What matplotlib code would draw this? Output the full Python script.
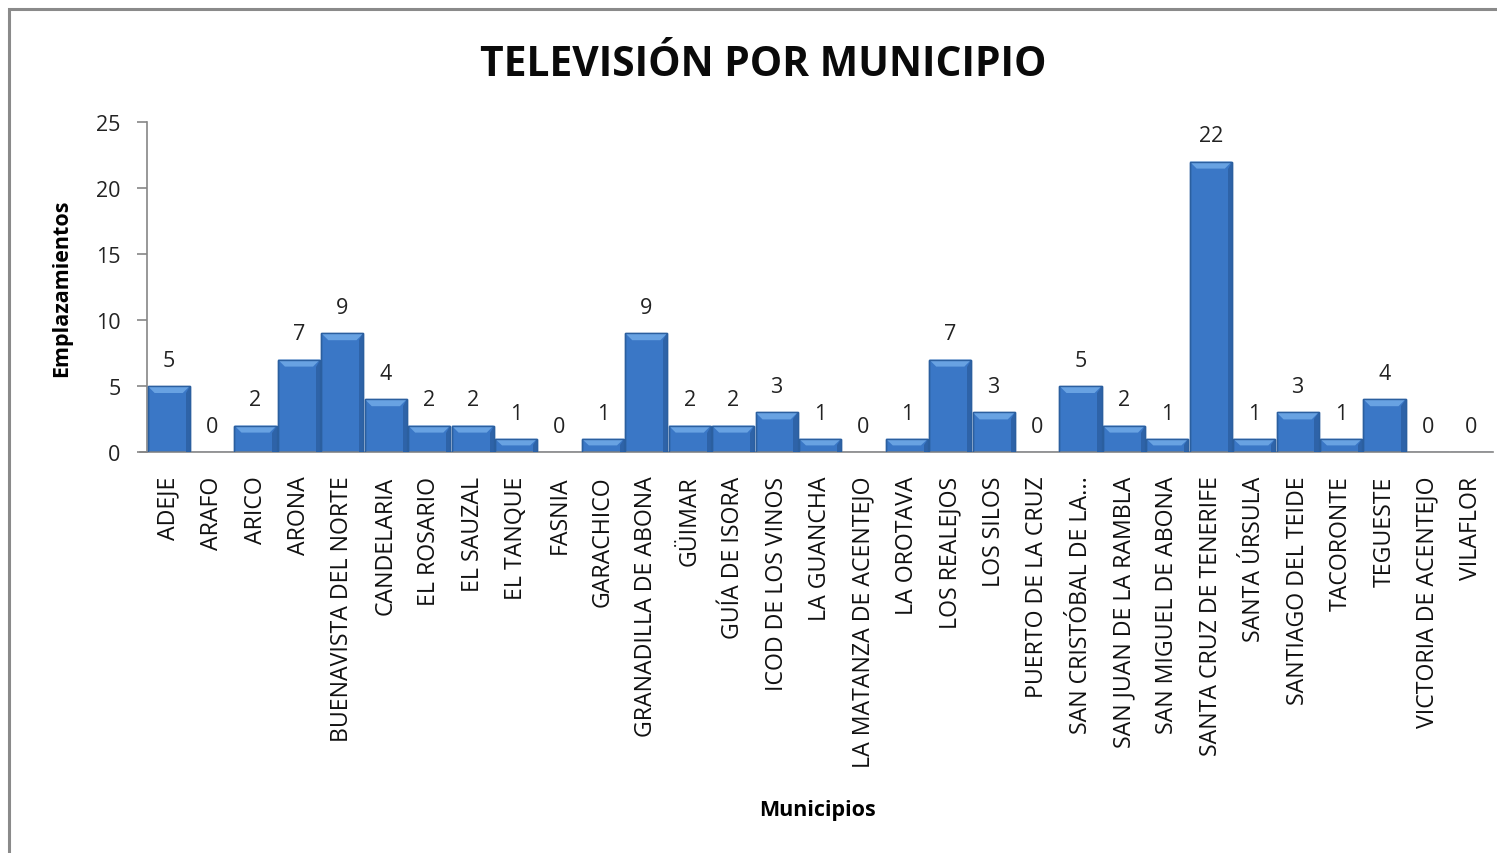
import matplotlib
matplotlib.use("Agg")
import matplotlib.pyplot as plt
from matplotlib.patches import Polygon, Rectangle
import numpy as np

municipios = ["ADEJE", "ARAFO", "ARICO", "ARONA", "BUENAVISTA DEL NORTE", "CANDELARIA",
              "EL ROSARIO", "EL SAUZAL", "EL TANQUE", "FASNIA", "GARACHICO",
              "GRANADILLA DE ABONA", "GÜIMAR", "GUÍA DE ISORA", "ICOD DE LOS VINOS",
              "LA GUANCHA", "LA MATANZA DE ACENTEJO", "LA OROTAVA", "LOS REALEJOS",
              "LOS SILOS", "PUERTO DE LA CRUZ", "SAN CRISTÓBAL DE LA...",
              "SAN JUAN DE LA RAMBLA", "SAN MIGUEL DE ABONA", "SANTA CRUZ DE TENERIFE",
              "SANTA ÚRSULA", "SANTIAGO DEL TEIDE", "TACORONTE", "TEGUESTE",
              "VICTORIA DE ACENTEJO", "VILAFLOR"]
emplazamientos = [5, 0, 2, 7, 9, 4, 2, 2, 1, 0, 1, 9, 2, 2, 3, 1, 0, 1, 7, 3, 0,
                  5, 2, 1, 22, 1, 3, 1, 4, 0, 0]
yticks = [0, 5, 10, 15, 20, 25]

plt.rcParams['font.family'] = ['Open Sans', 'DejaVu Sans']

W, H = 1497, 854
fig = plt.figure(figsize=(W / 100, H / 100), dpi=100)
fig.patch.set_facecolor("white")

# outer frame
fig.patches.append(Rectangle((9 / W, -0.01), 1.05, 1 - 10 / H + 0.01, transform=fig.transFigure,
                             fill=False, edgecolor="#8a8a8a", linewidth=2.2))

ax = fig.add_axes([147 / W, 1 - 453 / H, (1493 - 147) / W, (453 - 123) / H])
x = np.arange(len(municipios))
bars = ax.bar(x, emplazamientos, width=0.97, color="#3A77C6", edgecolor="#2B5F9F", linewidth=1.0, zorder=2)

ax.set_xlim(-0.5, len(municipios) - 0.5)
ax.set_ylim(0, 25)
ax.set_yticks(yticks)
ax.set_yticklabels([str(t) for t in yticks], fontsize=15.5, color="#222222")
ax.set_xticks(x)
ax.set_xticklabels(municipios, rotation=90, fontsize=16.7, color="#111111", va="top", ha="center")
ax.tick_params(axis="x", length=0, pad=17)
ax.tick_params(axis="y", length=7, color="#868686", width=1.2, pad=12)

for s in ["top", "right"]:
    ax.spines[s].set_visible(False)
ax.spines["left"].set_color("#868686")
ax.spines["bottom"].set_color("#868686")
ax.spines["left"].set_linewidth(1.2)
ax.spines["bottom"].set_linewidth(1.2)
ax.spines["bottom"].set_bounds(-0.67, len(municipios) - 0.5)

# bevel highlight on top of bars (derived from bar geometry)
fig.canvas.draw()
inv = ax.transData.inverted()
for b, v in zip(bars, emplazamientos):
    if v <= 0:
        continue
    x0, w = b.get_x(), b.get_width()
    y1 = b.get_height()
    p_top = ax.transData.transform((x0, y1))
    bev = 7
    dx = inv.transform((p_top[0] + bev, p_top[1] - bev))
    inset_x = dx[0] - x0
    inset_y = y1 - dx[1]
    inset_y = min(inset_y, y1 * 0.5)
    poly = Polygon([(x0, y1), (x0 + w, y1), (x0 + w - inset_x, y1 - inset_y), (x0 + inset_x, y1 - inset_y)],
                   closed=True, facecolor="#68A2E2", edgecolor="none", zorder=3)
    ax.add_patch(poly)
    side = Polygon([(x0 + w, y1), (x0 + w, 0), (x0 + w - inset_x * 0.6, 0), (x0 + w - inset_x * 0.6, y1 - inset_y)],
                   closed=True, facecolor="#2E63A8", edgecolor="none", zorder=3)
    ax.add_patch(side)
    ax.add_patch(Rectangle((x0, 0), w, y1, fill=False, edgecolor="#2B5F9F", linewidth=1.0, zorder=4))

for xi, v in zip(x, emplazamientos):
    ax.annotate(str(v), (xi, v), xytext=(0, 11), textcoords="offset points",
                ha="center", va="bottom", fontsize=15.5, color="#222222")

ax.set_ylabel("Emplazamientos", fontsize=15.5, fontweight="bold")
ax.yaxis.set_label_coords(-75 / (1493 - 147), 0.5)
fig.text(818 / W, 1 - 811 / H, "Municipios", fontsize=15.5, fontweight="bold", ha="center", va="center")
fig.text(763 / W, 1 - 66 / H, "TELEVISIÓN POR MUNICIPIO", fontsize=29.3, fontweight="bold",
         ha="center", va="center", color="#0a0a0a")

fig.savefig("out.png", dpi=100, facecolor="white")
